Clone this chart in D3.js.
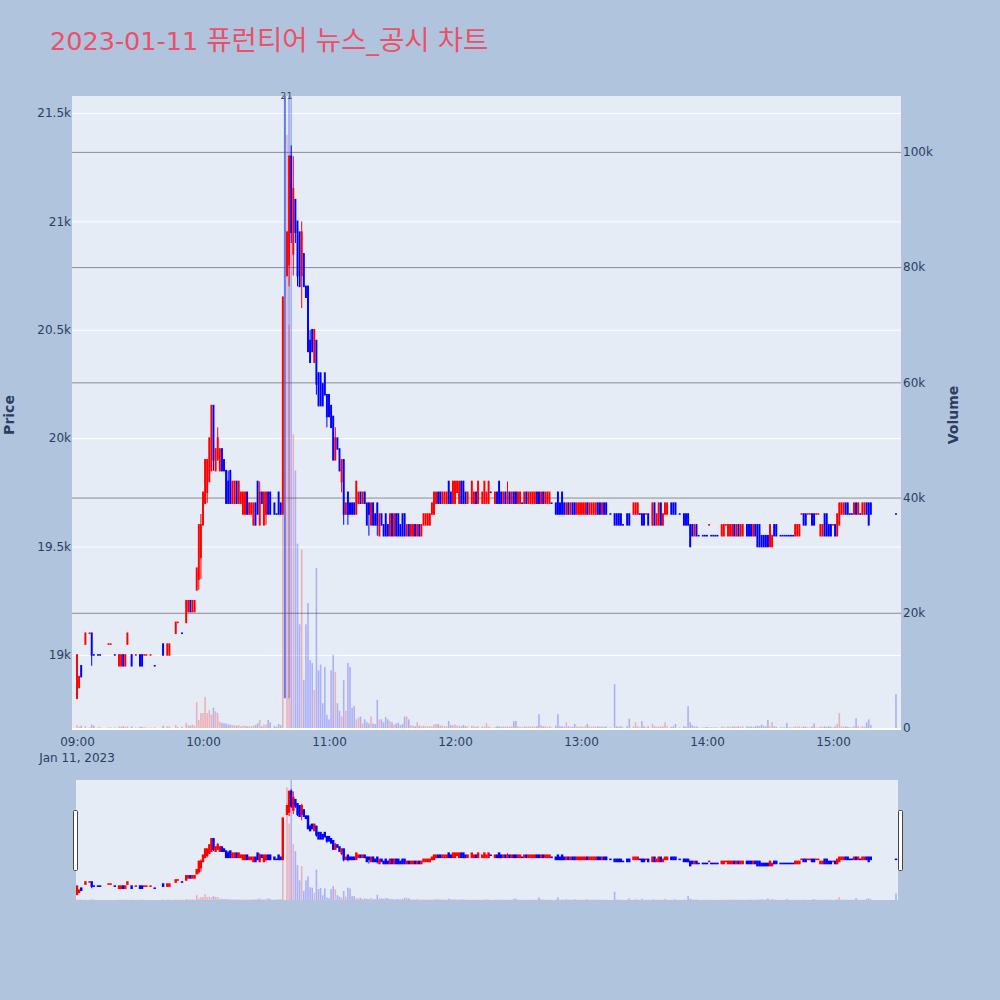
<!DOCTYPE html>
<html><head><meta charset="utf-8">
<script src="https://cdn.jsdelivr.net/npm/d3@7"></script>
<style>
body{margin:0;background:#b0c4de;}
svg{display:block;font-family:"DejaVu Sans","Noto Sans CJK KR",sans-serif;}
</style>
</head><body>
<svg id="c" width="1000" height="1000"></svg>
<script>
// ---------------- data ----------------
const tradeDate = "2023-01-11";
const titleParts = ["2023-01-11 ","퓨런티어"," ","뉴스","_","공시"," ","차트"];
const times = [
"09:00","09:01","09:02","09:04","09:06","09:07","09:08","09:10","09:11","09:15",
"09:16","09:18","09:20","09:21","09:22","09:23","09:24","09:26","09:28","09:30",
"09:31","09:32","09:33","09:35","09:37","09:41","09:43","09:44","09:47","09:48",
"09:50","09:52","09:53","09:54","09:55","09:56","09:57","09:58","09:59","10:00",
"10:01","10:02","10:03","10:04","10:05","10:06","10:07","10:08","10:09","10:10",
"10:11","10:12","10:13","10:14","10:15","10:16","10:17","10:18","10:19","10:20",
"10:21","10:22","10:23","10:24","10:25","10:26","10:27","10:28","10:29","10:30",
"10:31","10:32","10:34","10:35","10:36","10:37","10:38","10:40","10:41","10:42",
"10:43","10:44","10:45","10:46","10:47","10:48","10:49","10:50","10:51","10:52",
"10:53","10:54","10:55","10:56","10:57","10:58","10:59","11:00","11:01","11:02",
"11:03","11:04","11:05","11:06","11:07","11:08","11:09","11:10","11:11","11:12",
"11:13","11:14","11:15","11:16","11:17","11:18","11:19","11:20","11:21","11:22",
"11:23","11:24","11:25","11:26","11:27","11:28","11:29","11:30","11:31","11:32",
"11:33","11:34","11:35","11:36","11:37","11:38","11:39","11:40","11:41","11:42",
"11:43","11:44","11:45","11:46","11:47","11:48","11:49","11:50","11:51","11:52",
"11:53","11:54","11:55","11:56","11:57","11:58","11:59","12:00","12:01","12:02",
"12:03","12:04","12:05","12:06","12:08","12:09","12:10","12:11","12:13","12:14",
"12:15","12:16","12:17","12:19","12:20","12:21","12:22","12:23","12:24","12:25",
"12:26","12:27","12:28","12:29","12:30","12:31","12:32","12:33","12:34","12:35",
"12:36","12:37","12:38","12:39","12:40","12:41","12:42","12:43","12:44","12:45",
"12:46","12:48","12:49","12:50","12:51","12:52","12:53","12:54","12:55","12:56",
"12:57","12:58","12:59","13:00","13:01","13:02","13:03","13:04","13:05","13:06",
"13:07","13:08","13:09","13:10","13:11","13:12","13:14","13:16","13:17","13:18",
"13:19","13:20","13:22","13:23","13:25","13:26","13:27","13:28","13:29","13:30",
"13:31","13:32","13:34","13:35","13:36","13:37","13:38","13:39","13:40","13:41",
"13:43","13:44","13:45","13:47","13:49","13:50","13:51","13:52","13:53","13:54",
"13:55","13:56","13:58","13:59","14:00","14:01","14:02","14:03","14:04","14:05",
"14:07","14:08","14:09","14:10","14:11","14:12","14:13","14:14","14:15","14:16",
"14:17","14:19","14:20","14:21","14:22","14:23","14:24","14:25","14:26","14:27",
"14:28","14:29","14:30","14:31","14:32","14:33","14:35","14:36","14:37","14:38",
"14:39","14:40","14:41","14:42","14:43","14:44","14:45","14:46","14:47","14:48",
"14:49","14:50","14:51","14:52","14:53","14:54","14:55","14:56","14:57","14:58",
"14:59","15:00","15:01","15:02","15:03","15:04","15:05","15:06","15:07","15:08",
"15:09","15:10","15:11","15:12","15:13","15:14","15:15","15:16","15:17","15:18","15:30"];
const opens = [
18800,18850,18950,19050,19100,19100,19000,19000,19000,19050,
19050,19000,18950,18950,19000,18950,19050,19000,19000,19000,
19000,19000,19000,19000,18950,19050,19000,19000,19100,19150,
19100,19150,19200,19250,19200,19200,19300,19350,19450,19600,
19700,19750,19800,19850,20150,19850,19900,19850,19950,19900,
19850,19800,19850,19700,19700,19800,19700,19700,19650,19650,
19750,19650,19650,19600,19700,19800,19600,19750,19600,19650,
19750,19750,19700,19650,19750,19700,19650,20750,20800,21300,
20850,21100,21000,20950,20750,20850,20700,20700,20450,20500,
20350,20450,20300,20300,20250,20300,20200,20200,20150,20100,
19900,20000,19950,19800,19900,19650,19750,19700,19700,19700,
19650,19700,19750,19700,19750,19700,19700,19600,19700,19650,
19700,19550,19650,19600,19650,19600,19550,19650,19550,19650,
19650,19600,19650,19650,19550,19600,19550,19550,19600,19550,
19600,19550,19600,19600,19600,19600,19650,19650,19700,19750,
19750,19700,19700,19700,19800,19750,19700,19700,19750,19700,
19800,19800,19750,19700,19700,19700,19750,19700,19700,19700,
19700,19700,19750,19700,19750,19800,19750,19700,19750,19700,
19750,19700,19750,19750,19700,19700,19700,19700,19750,19700,
19700,19700,19700,19750,19750,19700,19750,19700,19700,19700,
19700,19700,19750,19700,19750,19700,19650,19700,19650,19700,
19700,19650,19650,19650,19650,19650,19700,19650,19650,19650,
19650,19700,19700,19650,19700,19700,19650,19650,19650,19650,
19650,19600,19650,19650,19650,19650,19650,19650,19650,19650,
19650,19650,19600,19700,19600,19600,19700,19600,19650,19650,
19700,19700,19700,19650,19650,19650,19650,19600,19600,19550,
19600,19550,19550,19550,19550,19600,19550,19550,19550,19550,
19550,19550,19600,19550,19550,19550,19600,19550,19600,19550,
19550,19600,19600,19600,19550,19600,19600,19600,19550,19550,
19550,19550,19500,19500,19600,19600,19550,19550,19550,19550,
19550,19550,19550,19550,19550,19550,19650,19650,19650,19650,
19650,19650,19650,19650,19650,19550,19550,19650,19650,19600,
19600,19600,19600,19550,19600,19650,19650,19700,19700,19650,
19650,19650,19700,19650,19650,19650,19650,19700,19700,19700,19650];
const highs = [
19000,18900,18950,19100,19100,19100,19000,19000,19000,19050,
19050,19000,19000,19000,19000,19000,19100,19000,19000,19000,
19000,19000,19000,19000,18950,19050,19050,19050,19150,19150,
19100,19250,19250,19250,19250,19250,19400,19600,19650,19750,
19900,19900,20000,20150,20150,19950,20050,19950,19950,19900,
19850,19850,19850,19800,19800,19800,19800,19750,19750,19750,
19750,19700,19700,19700,19700,19800,19800,19750,19750,19750,
19750,19750,19700,19650,19750,19700,20650,20950,21300,21350,
21300,21100,21000,20950,21000,20850,20700,20700,20500,20500,
20500,20450,20300,20300,20250,20300,20200,20200,20150,20100,
20050,20000,19950,19900,19900,19700,19750,19700,19700,19700,
19800,19750,19750,19750,19750,19700,19700,19700,19700,19650,
19700,19650,19650,19600,19650,19600,19650,19650,19650,19650,
19650,19600,19650,19650,19600,19600,19600,19600,19600,19600,
19600,19600,19650,19650,19650,19650,19700,19750,19750,19750,
19750,19750,19750,19750,19800,19750,19800,19800,19800,19800,
19800,19800,19750,19750,19800,19750,19750,19800,19750,19800,
19750,19800,19750,19750,19750,19800,19750,19750,19750,19800,
19750,19750,19750,19750,19750,19750,19700,19750,19750,19750,
19750,19750,19750,19750,19750,19750,19750,19750,19750,19750,
19700,19700,19750,19700,19750,19700,19700,19700,19700,19700,
19700,19700,19700,19700,19700,19700,19700,19700,19700,19700,
19700,19700,19700,19700,19700,19700,19650,19650,19650,19650,
19650,19600,19650,19650,19700,19700,19700,19650,19650,19650,
19650,19650,19700,19700,19650,19700,19700,19650,19700,19700,
19700,19700,19700,19650,19650,19650,19650,19600,19600,19600,
19600,19550,19550,19550,19550,19600,19550,19550,19550,19550,
19600,19600,19600,19600,19600,19600,19600,19600,19600,19600,
19600,19600,19600,19600,19600,19600,19600,19600,19550,19550,
19550,19550,19600,19550,19600,19600,19550,19550,19550,19550,
19550,19550,19550,19600,19600,19600,19650,19650,19650,19650,
19650,19650,19650,19650,19650,19600,19600,19650,19650,19600,
19600,19600,19600,19650,19700,19700,19700,19700,19700,19650,
19650,19700,19700,19700,19650,19700,19700,19700,19700,19700,19650];
const lows = [
18800,18850,18900,19050,19100,18950,19000,19000,19000,19050,
19050,19000,18950,18950,18950,18950,19050,18950,19000,18950,
18950,19000,19000,19000,18950,19000,19000,19000,19100,19150,
19100,19150,19200,19200,19200,19200,19300,19300,19350,19600,
19700,19700,19800,19850,19850,19850,19900,19850,19850,19850,
19700,19700,19700,19700,19700,19700,19700,19700,19650,19650,
19650,19650,19650,19600,19600,19650,19600,19700,19600,19600,
19650,19650,19650,19650,19650,19650,19650,20750,20700,20900,
20750,20900,20700,20700,20600,20700,20650,20400,20350,20400,
20350,20200,20150,20150,20150,20200,20050,20100,20050,19900,
19900,19950,19850,19750,19600,19650,19600,19650,19650,19650,
19650,19700,19700,19700,19700,19600,19550,19600,19600,19600,
19550,19550,19600,19550,19550,19550,19550,19550,19550,19550,
19550,19550,19550,19550,19550,19550,19550,19550,19550,19550,
19550,19550,19600,19600,19600,19600,19650,19650,19700,19700,
19700,19700,19700,19700,19700,19700,19700,19700,19750,19700,
19700,19700,19700,19700,19700,19700,19700,19700,19700,19700,
19700,19700,19750,19700,19700,19700,19700,19700,19700,19700,
19700,19700,19700,19700,19700,19700,19700,19700,19700,19700,
19700,19700,19700,19700,19700,19700,19700,19700,19700,19700,
19700,19650,19650,19650,19650,19650,19650,19650,19650,19650,
19650,19650,19650,19650,19650,19650,19650,19650,19650,19650,
19650,19650,19650,19650,19650,19650,19650,19600,19600,19600,
19600,19600,19600,19600,19650,19650,19650,19650,19600,19600,
19650,19600,19600,19600,19600,19600,19600,19600,19650,19650,
19650,19650,19650,19650,19600,19600,19600,19500,19550,19550,
19550,19550,19550,19550,19550,19600,19550,19550,19550,19550,
19550,19550,19600,19550,19550,19550,19550,19550,19550,19550,
19550,19550,19550,19550,19550,19550,19500,19500,19500,19500,
19500,19500,19500,19500,19550,19550,19550,19550,19550,19550,
19550,19550,19550,19550,19550,19550,19650,19600,19600,19650,
19650,19600,19600,19650,19650,19550,19550,19550,19550,19550,
19550,19600,19550,19550,19600,19650,19650,19650,19650,19650,
19650,19650,19650,19650,19650,19650,19650,19650,19600,19650,19650];
const closes = [
19000,18900,18900,19100,19100,19000,19000,19000,19000,19050,
19050,19000,19000,19000,18950,19000,19100,18950,19000,18950,
18950,19000,19000,19000,18950,19000,19050,19050,19150,19150,
19100,19250,19250,19200,19250,19250,19400,19600,19600,19750,
19900,19900,20000,20150,19900,19950,20000,19950,19850,19850,
19700,19700,19700,19800,19800,19700,19800,19750,19750,19750,
19650,19700,19700,19700,19600,19650,19750,19700,19750,19750,
19650,19650,19650,19650,19650,19650,20650,20950,21300,20950,
21150,20950,20750,20700,20950,20700,20650,20400,20350,20400,
20500,20250,20150,20150,20150,20200,20100,20100,20050,19900,
20000,19950,19850,19900,19650,19700,19650,19650,19650,19650,
19800,19750,19700,19750,19700,19600,19650,19700,19600,19600,
19600,19650,19600,19550,19550,19550,19650,19550,19650,19550,
19550,19550,19550,19550,19600,19550,19600,19600,19550,19600,
19550,19600,19650,19650,19650,19650,19700,19750,19750,19700,
19700,19750,19750,19750,19700,19700,19800,19800,19800,19800,
19700,19700,19700,19750,19800,19750,19700,19800,19750,19800,
19750,19800,19750,19750,19700,19700,19700,19750,19700,19750,
19700,19750,19700,19700,19750,19750,19700,19750,19700,19750,
19750,19750,19750,19700,19700,19750,19700,19750,19750,19750,
19700,19650,19650,19650,19650,19650,19700,19650,19700,19650,
19650,19700,19700,19700,19700,19700,19650,19700,19700,19700,
19700,19650,19650,19700,19650,19650,19650,19600,19600,19600,
19600,19600,19600,19600,19700,19700,19700,19650,19600,19600,
19650,19600,19700,19600,19650,19700,19600,19650,19700,19700,
19650,19650,19650,19650,19600,19600,19600,19500,19550,19600,
19550,19550,19550,19550,19550,19600,19550,19550,19550,19550,
19600,19600,19600,19600,19600,19600,19550,19600,19550,19600,
19600,19550,19550,19550,19600,19550,19500,19500,19500,19500,
19500,19500,19600,19550,19550,19550,19550,19550,19550,19550,
19550,19550,19550,19600,19600,19600,19650,19600,19600,19650,
19650,19600,19600,19650,19650,19600,19600,19550,19550,19550,
19550,19600,19550,19650,19700,19700,19700,19650,19650,19650,
19650,19700,19650,19700,19650,19700,19700,19650,19600,19650,19650];
const volumes = [
500,200,400,300,100,600,400,100,100,100,
100,100,300,200,300,200,300,300,100,200,
200,100,100,100,100,400,300,300,500,200,
200,900,500,400,600,400,4500,1400,2600,2600,
5400,2600,3100,2300,3500,2900,2600,1100,900,800,
800,600,600,500,500,400,500,300,400,400,
300,300,300,400,500,800,1400,300,600,600,
1400,1000,400,200,700,500,45000,103000,70000,120000,
51000,44700,32000,18000,31000,8300,18000,21700,11800,11300,
6600,27800,10000,11000,4300,10600,2300,1500,10000,12700,
9700,4300,3000,2000,8300,3000,11300,10600,3500,3800,
1500,1800,2000,800,1500,1000,800,2000,800,700,
4900,1500,1500,1000,1900,1500,1200,1000,600,800,
900,500,700,2000,2000,1500,500,400,300,1000,
400,300,400,300,300,300,300,600,700,700,
400,400,300,300,1200,500,500,600,400,400,
300,500,300,300,400,300,200,300,300,200,
800,300,100,200,300,300,200,300,200,300,
200,300,1200,1200,300,200,100,300,200,300,
200,300,200,300,2400,500,300,300,200,300,
100,400,2400,300,300,200,1000,300,200,200,
700,300,200,300,200,300,700,300,200,300,
200,300,200,300,200,300,100,7600,300,200,
300,100,300,1600,300,1000,300,100,1200,300,
100,300,700,300,200,300,200,300,1000,300,
200,300,700,100,300,200,3800,1000,500,300,
300,100,100,100,200,100,100,100,100,100,
300,200,100,300,200,300,300,200,300,200,
300,300,200,300,200,300,400,300,600,300,
300,1400,300,1000,300,200,100,100,100,900,
100,100,100,300,200,300,100,300,200,100,
100,300,800,100,100,300,200,300,200,300,
200,100,300,700,2600,300,200,300,200,100,
100,300,1700,300,100,300,200,1000,1500,500,5900];
// news / disclosure markers
const newsTimes = ["10:39","10:41"];
const newsCounts = [2,1];
const newsLineFrom = 18800;
// axes
const priceTicks = [19000,19500,20000,20500,21000,21500];
const volumeTicks = [0,20000,40000,60000,80000,100000];
const timeTicks = ["09:00","10:00","11:00","12:00","13:00","14:00","15:00"];
const xDomain = ["08:57:37","15:32:23"];
const priceDomain = [18663,21578];
const volumeDomain = [0,109700];

// ---------------- drawing ----------------
const UP = "#ff0000", DOWN = "#0000ff";
const UPV = "rgba(255,0,0,0.25)", DOWNV = "rgba(0,0,255,0.25)";
const TXT = "#2a3f5f";
const FONT = "DejaVu Sans";
const parse = d3.timeParse("%Y-%m-%d %H:%M:%S");
const toDate = s => parse(tradeDate + " " + (s.length === 5 ? s + ":00" : s));

const data = times.map((t,i)=>({t:toDate(t),o:opens[i],h:highs[i],l:lows[i],c:closes[i],v:volumes[i]}));
let prevC = null, prevUp = true;
data.forEach(d=>{
  let up;
  if (d.c > d.o) up = true;
  else if (d.c < d.o) up = false;
  else if (prevC === null) up = true;
  else up = d.c > prevC ? true : (d.c < prevC ? false : prevUp);
  d.up = up; prevC = d.c; prevUp = up;
});

const svg = d3.select("#c");
svg.append("rect").attr("width",1000).attr("height",1000).attr("fill","#b0c4de");

const title = svg.append("text").attr("x",50).attr("y",50).attr("fill","#ec5068");
titleParts.forEach(p=>{
  const hangul = /[\uAC00-\uD7A3]/.test(p);
  title.append("tspan")
    .attr("font-size", hangul ? 27.5 : 25.5)
    .attr("font-family", hangul ? "Noto Sans CJK KR" : FONT)
    .text(p);
});

const P = {l:72, r:901, t:96, b:728};
const S = {l:76, r:898, t:780, b:900};

const x = d3.scaleTime().domain(xDomain.map(toDate)).range([P.l,P.r]);
const y = d3.scaleLinear().domain(priceDomain).range([P.b,P.t]);
const yv = d3.scaleLinear().domain(volumeDomain).range([P.b,P.t]);

const defs = svg.append("defs");
defs.append("clipPath").attr("id","clipMain").append("rect")
  .attr("x",P.l).attr("y",P.t).attr("width",P.r-P.l).attr("height",P.b-P.t);
defs.append("clipPath").attr("id","clipSlider").append("rect")
  .attr("x",S.l).attr("y",S.t).attr("width",S.r-S.l).attr("height",S.b-S.t);

// plot background
svg.append("rect").attr("x",P.l).attr("y",P.t).attr("width",P.r-P.l).attr("height",P.b-P.t).attr("fill","#e5ecf6");

// price grid (white)
svg.append("g").attr("transform",`translate(${P.l},0)`)
  .call(d3.axisLeft(y).tickValues(priceTicks).tickSize(-(P.r-P.l)).tickFormat(""))
  .call(g=>{g.select(".domain").remove(); g.selectAll("line").attr("stroke","#ffffff").attr("stroke-width",1);});
// volume grid (gray)
svg.append("g").attr("transform",`translate(${P.r},0)`)
  .call(d3.axisRight(yv).tickValues(volumeTicks.filter(v=>v>0)).tickSize(-(P.r-P.l)).tickFormat(""))
  .call(g=>{g.select(".domain").remove(); g.selectAll("line").attr("stroke","#8c8c8c").attr("stroke-width",1);});
// zero line
svg.append("line").attr("x1",P.l).attr("x2",P.r).attr("y1",yv(0)+1).attr("y2",yv(0)+1)
  .attr("stroke","#ffffff").attr("stroke-width",2);

function drawSeries(g, xs, ys, yvs, bodyW, wickW, barW){
  g.selectAll("rect.vol").data(data).join("rect").attr("class","vol")
    .attr("x",d=>xs(d.t)-barW/2).attr("width",barW)
    .attr("y",d=>yvs(d.v)).attr("height",d=>yvs(0)-yvs(d.v))
    .attr("fill",d=>d.up?UPV:DOWNV);
  g.selectAll("line.wick").data(data).join("line").attr("class","wick")
    .attr("x1",d=>xs(d.t)).attr("x2",d=>xs(d.t))
    .attr("y1",d=>ys(d.h)).attr("y2",d=>ys(d.l))
    .attr("stroke",d=>d.up?UP:DOWN).attr("stroke-width",wickW);
  g.selectAll("rect.body").data(data).join("rect").attr("class","body")
    .attr("x",d=>xs(d.t)-bodyW/2).attr("width",bodyW)
    .attr("y",d=>ys(Math.max(d.o,d.c))-0.8)
    .attr("height",d=>Math.abs(ys(d.o)-ys(d.c))+1.6)
    .attr("fill",d=>d.up?UP:DOWN);
}

// news markers (behind traces)
const gMain = svg.append("g").attr("clip-path","url(#clipMain)");
gMain.selectAll("line.news").data(newsTimes).join("line").attr("class","news")
  .attr("x1",t=>x(toDate(t))).attr("x2",t=>x(toDate(t)))
  .attr("y1",y(newsLineFrom)).attr("y2",P.t)
  .attr("stroke",(t,i)=>`rgba(50,90,235,${Math.min(0.8,0.38*newsCounts[i])})`)
  .attr("stroke-width",2);
drawSeries(gMain, x, y, yv, 1.9, 1, 1.6);

svg.selectAll("text.news").data(newsTimes).join("text").attr("class","news")
  .attr("x",(t,i)=>x(toDate(t)) + (i===0 ? -1.5 : 0.5)).attr("y",P.t).attr("dy","0.35em")
  .attr("text-anchor","middle").attr("font-size",9).attr("fill","#444")
  .attr("font-family",FONT)
  .text((t,i)=>newsCounts[i]);

function styleText(g){
  g.select(".domain").remove();
  g.selectAll("text").attr("font-size",12).attr("fill",TXT).attr("font-family",FONT);
}
// left axis
svg.append("g").attr("transform",`translate(${P.l},0)`)
  .call(d3.axisLeft(y).tickValues(priceTicks).tickFormat(d3.format("~s")).tickSize(0).tickPadding(1))
  .call(styleText);
// right axis
svg.append("g").attr("transform",`translate(${P.r},0)`)
  .call(d3.axisRight(yv).tickValues(volumeTicks).tickFormat(d3.format("~s")).tickSize(0).tickPadding(2))
  .call(styleText);
// bottom axis
svg.append("g").attr("transform",`translate(0,${P.b})`)
  .call(d3.axisBottom(x).tickValues(timeTicks.map(toDate)).tickFormat(d3.timeFormat("%H:%M")).tickSize(0).tickPadding(9))
  .call(styleText);
svg.append("text").attr("x",x(toDate(timeTicks[0]))).attr("y",762)
  .attr("text-anchor","middle").attr("font-size",12).attr("fill",TXT).attr("font-family",FONT)
  .text(d3.timeFormat("%b %-d, %Y")(toDate(timeTicks[0])));

// axis titles
svg.append("text").attr("transform","translate(14,415) rotate(-90)")
  .attr("text-anchor","middle").attr("font-size",14).attr("font-weight","bold").attr("fill",TXT)
  .attr("font-family",FONT).text("Price");
svg.append("text").attr("transform","translate(958,415) rotate(-90)")
  .attr("text-anchor","middle").attr("font-size",14).attr("font-weight","bold").attr("fill",TXT)
  .attr("font-family",FONT).text("Volume");

// range slider
const ys = d3.scaleLinear().domain(priceDomain).range([S.b,S.t]);
const yvs = d3.scaleLinear().domain(volumeDomain).range([S.b,S.t]);
svg.append("rect").attr("x",S.l).attr("y",S.t).attr("width",S.r-S.l).attr("height",S.b-S.t).attr("fill","#e5ecf6");
const gS = svg.append("g").attr("clip-path","url(#clipSlider)");
drawSeries(gS, x, ys, yvs, 2.4, 1, 1.6);
[S.l-2, S.r+1].forEach(hx=>{
  svg.append("rect").attr("x",hx-0.5).attr("y",810.5).attr("width",4).attr("height",60)
    .attr("rx",1).attr("fill","#ffffff").attr("stroke","#444").attr("stroke-width",1);
});
</script>
</body></html>
